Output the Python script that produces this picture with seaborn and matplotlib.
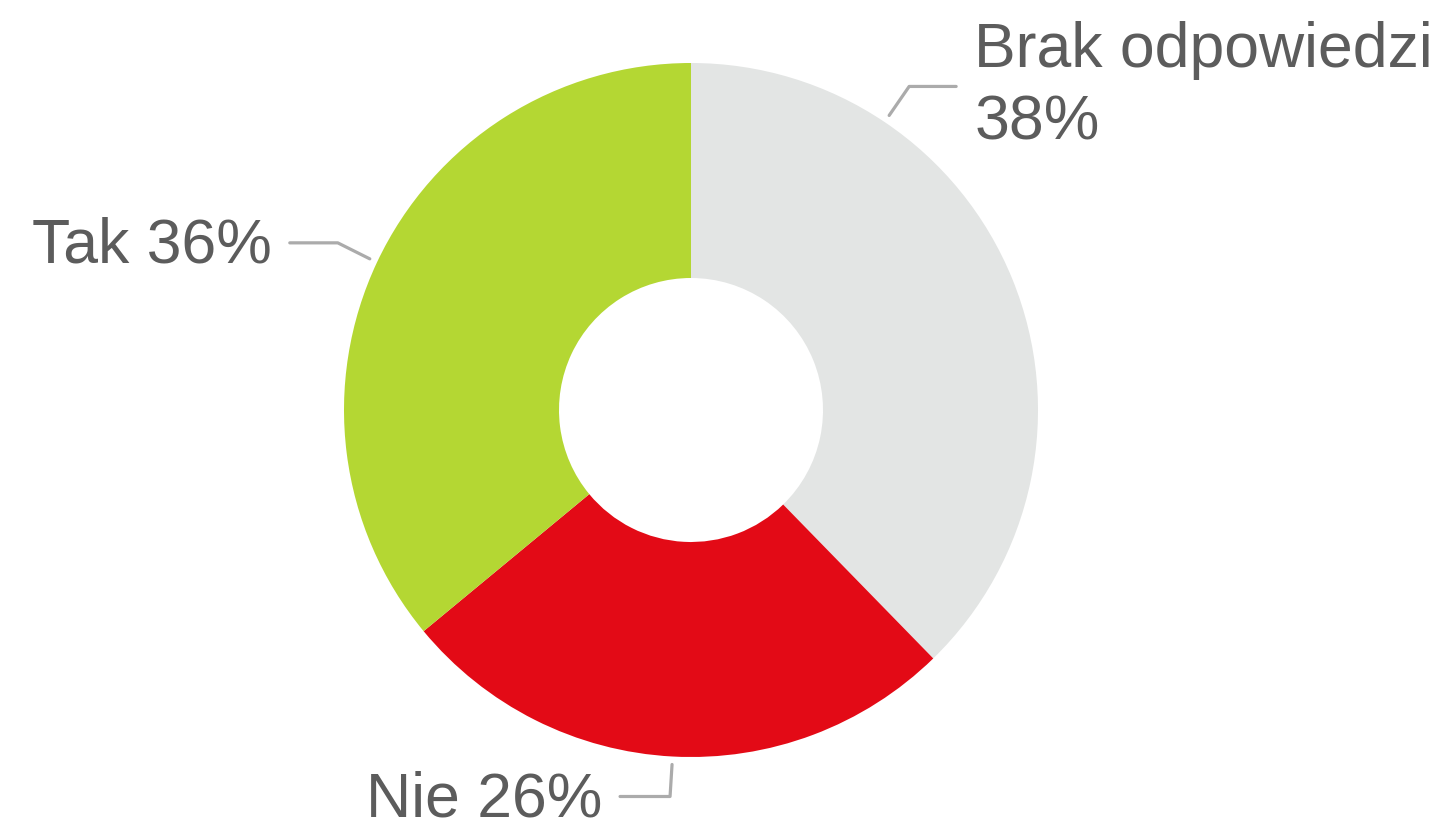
"""
Donut chart: survey answers (Brak odpowiedzi / Nie / Tak)
"""

import numpy as np
import matplotlib
matplotlib.use("Agg")
import matplotlib.pyplot as plt
import seaborn as sns

# Data (wedge sizes, labels as printed)
categories = ["Brak odpowiedzi", "Nie", "Tak"]
shares = [37.7, 26.3, 36.0]
share_labels = [38, 26, 36]
colors = ["#E3E5E4", "#E30A16", "#B4D733"]

# Figure size in pixels (dpi 100)
W, H = 1449, 825
TEXT_COLOR = "#5C5C5C"
LINE_COLOR = "#ABABAB"
FONT_SIZE = 45

sns.set_style("white")
plt.rcParams["font.family"] = ["Liberation Sans", "DejaVu Sans"]


def px(x, y):
    """Convert pixel position (top-left origin) into data coords."""
    return x, H - y


def main():
    fig = plt.figure(figsize=(W / 100, H / 100), dpi=100)
    ax = fig.add_axes([0, 0, 1, 1])
    ax.set_aspect("equal")

    center = px(691, 410)
    outer_r = 347
    inner_r = 132

    wedges, _ = ax.pie(
        shares,
        colors=colors,
        startangle=90,
        counterclock=False,
        center=center,
        radius=outer_r,
        wedgeprops=dict(width=outer_r - inner_r, linewidth=0),
        frame=True,
    )
    ax.set_xlim(0, W)
    ax.set_ylim(0, H)
    ax.axis("off")

    # Label layout: where on the wedge the leader starts, elbow and end offsets
    anchor_frac = [0.75, 0.5, 0.5]
    elbow = [(20, -29), (-2, 32), (-32, -16)]
    end_dx = [47, -50, -48]
    lead_r = 355

    for i, w in enumerate(wedges):
        ang = np.deg2rad(w.theta1 + anchor_frac[i] * (w.theta2 - w.theta1))
        ax_x = center[0] + lead_r * np.cos(ang)
        ax_y = center[1] + lead_r * np.sin(ang)
        ex, ey = ax_x + elbow[i][0], ax_y - elbow[i][1]
        fx, fy = ex + end_dx[i], ey
        ax.plot([ax_x, ex, fx], [ax_y, ey, fy], color=LINE_COLOR, lw=2.3,
                solid_capstyle="round", solid_joinstyle="round")

        if i == 0:
            ax.text(fx + 18, fy + 19, categories[i], ha="left", va="baseline",
                    fontsize=FONT_SIZE, color=TEXT_COLOR)
            ax.text(fx + 18, fy - 53, f"{share_labels[i]}%", ha="left",
                    va="baseline", fontsize=FONT_SIZE, color=TEXT_COLOR)
        else:
            ax.text(fx - 18, fy - 20, f"{categories[i]} {share_labels[i]}%",
                    ha="right", va="baseline", fontsize=FONT_SIZE,
                    color=TEXT_COLOR)

    fig.savefig("out.png", dpi=100, facecolor="white")
    plt.close(fig)


if __name__ == "__main__":
    main()
